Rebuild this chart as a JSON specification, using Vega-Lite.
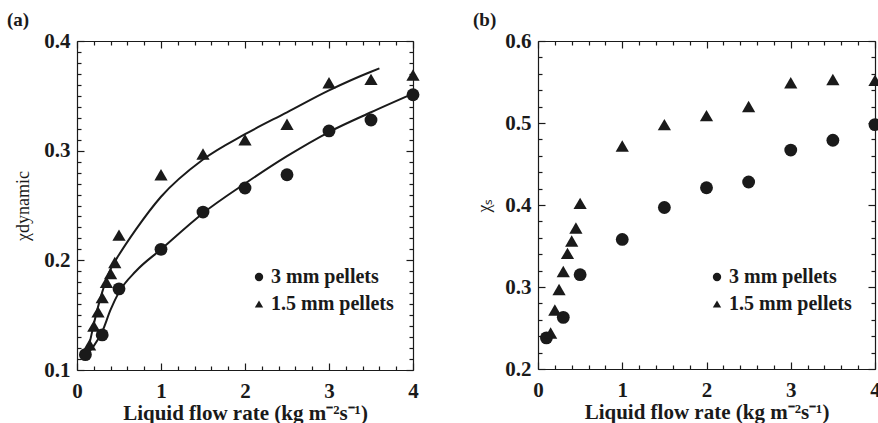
{
  "$schema": "https://vega.github.io/schema/vega-lite/v6.json",
  "autosize": {"type": "pad"},
  "padding": {"left": 7, "top": 11, "right": 0, "bottom": 0},
  "bounds": "flush",
  "spacing": 125,
  "background": "white",
  "config": {
    "view": {"stroke": null},
    "axis": {
      "grid": false,
      "ticks": true,
      "domainColor": "#1a1a1a",
      "domainWidth": 1.2,
      "tickColor": "#1a1a1a",
      "tickWidth": 1.2,
      "labelFont": "Liberation Serif",
      "labelFontWeight": "bold",
      "labelFontSize": 21,
      "labelColor": "#1a1a1a",
      "labelOverlap": false,
      "labelFlush": false,
      "labelBound": false,
      "titleFont": "Liberation Serif",
      "titleFontWeight": "bold",
      "titleFontSize": 21,
      "titleColor": "#1a1a1a"
    },
    "legend": {
      "labelFont": "Liberation Serif",
      "labelFontWeight": "bold",
      "labelFontSize": 20,
      "labelColor": "#1a1a1a",
      "symbolFillColor": "#1a1a1a",
      "symbolStrokeColor": "#1a1a1a",
      "symbolSize": 70,
      "symbolStrokeWidth": 0,
      "rowPadding": 7,
      "labelOffset": 2,
      "padding": 0
    },
    "title": {
      "font": "Liberation Serif",
      "fontWeight": "bold",
      "fontSize": 19,
      "color": "#1a1a1a",
      "anchor": "start",
      "frame": "group"
    }
  },
  "resolve": {"scale": {"shape": "independent"}},
  "datasets": {
    "dynamic_pts": [
      {"q": 0.1, "chi": 0.114, "pellet": "3 mm pellets"},
      {"q": 0.3, "chi": 0.132, "pellet": "3 mm pellets"},
      {"q": 0.5, "chi": 0.174, "pellet": "3 mm pellets"},
      {"q": 1.0, "chi": 0.21, "pellet": "3 mm pellets"},
      {"q": 1.5, "chi": 0.244, "pellet": "3 mm pellets"},
      {"q": 2.0, "chi": 0.266, "pellet": "3 mm pellets"},
      {"q": 2.5, "chi": 0.278, "pellet": "3 mm pellets"},
      {"q": 3.0, "chi": 0.318, "pellet": "3 mm pellets"},
      {"q": 3.5, "chi": 0.328, "pellet": "3 mm pellets"},
      {"q": 4.0, "chi": 0.351, "pellet": "3 mm pellets"},
      {"q": 0.15, "chi": 0.123, "pellet": "1.5 mm pellets"},
      {"q": 0.2, "chi": 0.14, "pellet": "1.5 mm pellets"},
      {"q": 0.25, "chi": 0.153, "pellet": "1.5 mm pellets"},
      {"q": 0.3, "chi": 0.166, "pellet": "1.5 mm pellets"},
      {"q": 0.35, "chi": 0.18, "pellet": "1.5 mm pellets"},
      {"q": 0.4, "chi": 0.188, "pellet": "1.5 mm pellets"},
      {"q": 0.45, "chi": 0.198, "pellet": "1.5 mm pellets"},
      {"q": 0.5, "chi": 0.223, "pellet": "1.5 mm pellets"},
      {"q": 1.0, "chi": 0.278, "pellet": "1.5 mm pellets"},
      {"q": 1.5, "chi": 0.297, "pellet": "1.5 mm pellets"},
      {"q": 2.0, "chi": 0.31, "pellet": "1.5 mm pellets"},
      {"q": 2.5, "chi": 0.324, "pellet": "1.5 mm pellets"},
      {"q": 3.0, "chi": 0.362, "pellet": "1.5 mm pellets"},
      {"q": 3.5, "chi": 0.365, "pellet": "1.5 mm pellets"},
      {"q": 4.0, "chi": 0.369, "pellet": "1.5 mm pellets"}
    ],
    "dynamic_fit": [
      {"q": 0.1, "chi": 0.113, "pellet": "3 mm pellets"},
      {"q": 0.2, "chi": 0.122, "pellet": "3 mm pellets"},
      {"q": 0.3, "chi": 0.135, "pellet": "3 mm pellets"},
      {"q": 0.4, "chi": 0.155, "pellet": "3 mm pellets"},
      {"q": 0.5, "chi": 0.171, "pellet": "3 mm pellets"},
      {"q": 0.7, "chi": 0.19, "pellet": "3 mm pellets"},
      {"q": 1.0, "chi": 0.21, "pellet": "3 mm pellets"},
      {"q": 1.5, "chi": 0.243, "pellet": "3 mm pellets"},
      {"q": 2.0, "chi": 0.27, "pellet": "3 mm pellets"},
      {"q": 2.5, "chi": 0.295, "pellet": "3 mm pellets"},
      {"q": 3.0, "chi": 0.317, "pellet": "3 mm pellets"},
      {"q": 3.5, "chi": 0.335, "pellet": "3 mm pellets"},
      {"q": 4.0, "chi": 0.352, "pellet": "3 mm pellets"},
      {"q": 0.12, "chi": 0.118, "pellet": "1.5 mm pellets"},
      {"q": 0.15, "chi": 0.125, "pellet": "1.5 mm pellets"},
      {"q": 0.2, "chi": 0.142, "pellet": "1.5 mm pellets"},
      {"q": 0.3, "chi": 0.171, "pellet": "1.5 mm pellets"},
      {"q": 0.4, "chi": 0.192, "pellet": "1.5 mm pellets"},
      {"q": 0.5, "chi": 0.205, "pellet": "1.5 mm pellets"},
      {"q": 0.7, "chi": 0.228, "pellet": "1.5 mm pellets"},
      {"q": 1.0, "chi": 0.258, "pellet": "1.5 mm pellets"},
      {"q": 1.5, "chi": 0.292, "pellet": "1.5 mm pellets"},
      {"q": 2.0, "chi": 0.315, "pellet": "1.5 mm pellets"},
      {"q": 2.5, "chi": 0.335, "pellet": "1.5 mm pellets"},
      {"q": 3.0, "chi": 0.355, "pellet": "1.5 mm pellets"},
      {"q": 3.5, "chi": 0.372, "pellet": "1.5 mm pellets"},
      {"q": 3.6, "chi": 0.375, "pellet": "1.5 mm pellets"}
    ],
    "static_pts": [
      {"q": 0.1, "chi": 0.238, "pellet": "3 mm pellets"},
      {"q": 0.3, "chi": 0.263, "pellet": "3 mm pellets"},
      {"q": 0.5, "chi": 0.315, "pellet": "3 mm pellets"},
      {"q": 1.0, "chi": 0.358, "pellet": "3 mm pellets"},
      {"q": 1.5, "chi": 0.397, "pellet": "3 mm pellets"},
      {"q": 2.0, "chi": 0.421, "pellet": "3 mm pellets"},
      {"q": 2.5, "chi": 0.428, "pellet": "3 mm pellets"},
      {"q": 3.0, "chi": 0.467, "pellet": "3 mm pellets"},
      {"q": 3.5, "chi": 0.479, "pellet": "3 mm pellets"},
      {"q": 4.0, "chi": 0.498, "pellet": "3 mm pellets"},
      {"q": 0.15, "chi": 0.244, "pellet": "1.5 mm pellets"},
      {"q": 0.2, "chi": 0.272, "pellet": "1.5 mm pellets"},
      {"q": 0.25, "chi": 0.297, "pellet": "1.5 mm pellets"},
      {"q": 0.3, "chi": 0.319, "pellet": "1.5 mm pellets"},
      {"q": 0.35, "chi": 0.341, "pellet": "1.5 mm pellets"},
      {"q": 0.4, "chi": 0.356, "pellet": "1.5 mm pellets"},
      {"q": 0.45, "chi": 0.372, "pellet": "1.5 mm pellets"},
      {"q": 0.5, "chi": 0.402, "pellet": "1.5 mm pellets"},
      {"q": 1.0, "chi": 0.472, "pellet": "1.5 mm pellets"},
      {"q": 1.5, "chi": 0.498, "pellet": "1.5 mm pellets"},
      {"q": 2.0, "chi": 0.509, "pellet": "1.5 mm pellets"},
      {"q": 2.5, "chi": 0.52, "pellet": "1.5 mm pellets"},
      {"q": 3.0, "chi": 0.549, "pellet": "1.5 mm pellets"},
      {"q": 3.5, "chi": 0.553, "pellet": "1.5 mm pellets"},
      {"q": 4.0, "chi": 0.552, "pellet": "1.5 mm pellets"}
    ]
  },
  "hconcat": [
    {
      "width": 336,
      "height": 329,
      "title": {"text": "(a)", "dx": -70, "offset": 0},
      "layer": [
        {
          "data": {"name": "dynamic_fit"},
          "mark": {"type": "line", "interpolate": "monotone", "color": "#1a1a1a", "strokeWidth": 2},
          "encoding": {
            "x": {"field": "q", "type": "quantitative", "scale": {"domain": [0, 4], "nice": false, "zero": false}, "axis": null},
            "y": {"field": "chi", "type": "quantitative", "scale": {"domain": [0.1, 0.4], "nice": false, "zero": false}, "axis": null},
            "detail": {"field": "pellet"}
          }
        },
        {
          "data": {"name": "dynamic_pts"},
          "transform": [{"filter": "datum.pellet === '3 mm pellets'"}],
          "mark": {"type": "point", "filled": true, "opacity": 1, "color": "#1a1a1a", "size": 165},
          "encoding": {
            "x": {
              "field": "q", "type": "quantitative",
              "scale": {"domain": [0, 4], "nice": false, "zero": false},
              "axis": {
                "orient": "bottom",
                "title": "Liquid flow rate (kg m⁻²s⁻¹)",
                "values": [0, 0.2, 0.4, 0.6, 0.8, 1, 1.2, 1.4, 1.6, 1.8, 2, 2.2, 2.4, 2.6, 2.8, 3, 3.2, 3.4, 3.6, 3.8, 4],
                "labelExpr": "abs(datum.value - round(datum.value)) < 1e-6 ? '' + round(datum.value) : ''",
                "tickSize": {"condition": {"test": "abs(datum.value - round(datum.value)) < 1e-6", "value": -7}, "value": -4},
                "labelPadding": 17,
                "titlePadding": -2
              }
            },
            "y": {
              "field": "chi", "type": "quantitative",
              "scale": {"domain": [0.1, 0.4], "nice": false, "zero": false},
              "axis": {
                "orient": "left",
                "title": "χdynamic",
                "titleFontWeight": "normal",
                "titleFontSize": 18,
                "titlePadding": 11,
                "values": [0.1, 0.11, 0.12, 0.13, 0.14, 0.15, 0.16, 0.17, 0.18, 0.19, 0.2, 0.21, 0.22, 0.23, 0.24, 0.25, 0.26, 0.27, 0.28, 0.29, 0.3, 0.31, 0.32, 0.33, 0.34, 0.35, 0.36, 0.37, 0.38, 0.39, 0.4],
                "labelExpr": "abs(datum.value * 10 - round(datum.value * 10)) < 1e-6 ? format(datum.value, '.1f') : ''",
                "tickSize": {"condition": {"test": "abs(datum.value * 10 - round(datum.value * 10)) < 1e-6", "value": -7}, "value": -4},
                "labelPadding": 14
              }
            },
            "shape": {
              "field": "pellet", "type": "nominal",
              "scale": {"domain": ["3 mm pellets", "1.5 mm pellets"], "range": ["circle", "triangle-up"]},
              "legend": {"title": null, "orient": "none", "legendX": 172, "legendY": 226}
            }
          }
        },
        {
          "data": {"name": "dynamic_pts"},
          "transform": [{"filter": "datum.pellet === '1.5 mm pellets'"}],
          "mark": {"type": "point", "filled": true, "opacity": 1, "color": "#1a1a1a", "size": 175},
          "encoding": {
            "x": {
              "field": "q", "type": "quantitative",
              "scale": {"domain": [0, 4], "nice": false, "zero": false},
              "axis": {
                "orient": "top", "title": null, "labels": false,
                "values": [0, 0.2, 0.4, 0.6, 0.8, 1, 1.2, 1.4, 1.6, 1.8, 2, 2.2, 2.4, 2.6, 2.8, 3, 3.2, 3.4, 3.6, 3.8, 4],
                "tickSize": {"condition": {"test": "abs(datum.value - round(datum.value)) < 1e-6", "value": -7}, "value": -4}
              }
            },
            "y": {
              "field": "chi", "type": "quantitative",
              "scale": {"domain": [0.1, 0.4], "nice": false, "zero": false},
              "axis": {
                "orient": "right", "title": null, "labels": false,
                "values": [0.1, 0.11, 0.12, 0.13, 0.14, 0.15, 0.16, 0.17, 0.18, 0.19, 0.2, 0.21, 0.22, 0.23, 0.24, 0.25, 0.26, 0.27, 0.28, 0.29, 0.3, 0.31, 0.32, 0.33, 0.34, 0.35, 0.36, 0.37, 0.38, 0.39, 0.4],
                "tickSize": {"condition": {"test": "abs(datum.value * 10 - round(datum.value * 10)) < 1e-6", "value": -7}, "value": -4}
              }
            },
            "shape": {
              "field": "pellet", "type": "nominal",
              "scale": {"domain": ["3 mm pellets", "1.5 mm pellets"], "range": ["circle", "triangle-up"]},
              "legend": {"title": null, "orient": "none", "legendX": 172, "legendY": 226}
            }
          }
        }
      ]
    },
    {
      "width": 337,
      "height": 328,
      "title": {"text": "(b)", "dx": -65, "offset": 0},
      "layer": [
        {
          "data": {"name": "static_pts"},
          "transform": [{"filter": "datum.pellet === '3 mm pellets'"}],
          "mark": {"type": "point", "filled": true, "opacity": 1, "color": "#1a1a1a", "size": 165},
          "encoding": {
            "x": {
              "field": "q", "type": "quantitative",
              "scale": {"domain": [0, 4], "nice": false, "zero": false},
              "axis": {
                "orient": "bottom",
                "title": "Liquid flow rate (kg m⁻²s⁻¹)",
                "values": [0, 0.2, 0.4, 0.6, 0.8, 1, 1.2, 1.4, 1.6, 1.8, 2, 2.2, 2.4, 2.6, 2.8, 3, 3.2, 3.4, 3.6, 3.8, 4],
                "labelExpr": "abs(datum.value - round(datum.value)) < 1e-6 ? '' + round(datum.value) : ''",
                "tickSize": {"condition": {"test": "abs(datum.value - round(datum.value)) < 1e-6", "value": -7}, "value": -4},
                "labelPadding": 17,
                "titlePadding": -2
              }
            },
            "y": {
              "field": "chi", "type": "quantitative",
              "scale": {"domain": [0.2, 0.6], "nice": false, "zero": false},
              "axis": {
                "orient": "left",
                "title": "χₛ",
                "titleFontWeight": "normal",
                "titleFontSize": 18,
                "titlePadding": 11,
                "values": [0.2, 0.22, 0.24, 0.26, 0.28, 0.3, 0.32, 0.34, 0.36, 0.38, 0.4, 0.42, 0.44, 0.46, 0.48, 0.5, 0.52, 0.54, 0.56, 0.58, 0.6],
                "labelExpr": "abs(datum.value * 10 - round(datum.value * 10)) < 1e-6 ? format(datum.value, '.1f') : ''",
                "tickSize": {"condition": {"test": "abs(datum.value * 10 - round(datum.value * 10)) < 1e-6", "value": -7}, "value": -4},
                "labelPadding": 14
              }
            },
            "shape": {
              "field": "pellet", "type": "nominal",
              "scale": {"domain": ["3 mm pellets", "1.5 mm pellets"], "range": ["circle", "triangle-up"]},
              "legend": {"title": null, "orient": "none", "legendX": 169, "legendY": 226}
            }
          }
        },
        {
          "data": {"name": "static_pts"},
          "transform": [{"filter": "datum.pellet === '1.5 mm pellets'"}],
          "mark": {"type": "point", "filled": true, "opacity": 1, "color": "#1a1a1a", "size": 175},
          "encoding": {
            "x": {
              "field": "q", "type": "quantitative",
              "scale": {"domain": [0, 4], "nice": false, "zero": false},
              "axis": {
                "orient": "top", "title": null, "labels": false,
                "values": [0, 0.2, 0.4, 0.6, 0.8, 1, 1.2, 1.4, 1.6, 1.8, 2, 2.2, 2.4, 2.6, 2.8, 3, 3.2, 3.4, 3.6, 3.8, 4],
                "tickSize": {"condition": {"test": "abs(datum.value - round(datum.value)) < 1e-6", "value": -7}, "value": -4}
              }
            },
            "y": {
              "field": "chi", "type": "quantitative",
              "scale": {"domain": [0.2, 0.6], "nice": false, "zero": false},
              "axis": {
                "orient": "right", "title": null, "labels": false,
                "values": [0.2, 0.22, 0.24, 0.26, 0.28, 0.3, 0.32, 0.34, 0.36, 0.38, 0.4, 0.42, 0.44, 0.46, 0.48, 0.5, 0.52, 0.54, 0.56, 0.58, 0.6],
                "tickSize": {"condition": {"test": "abs(datum.value * 10 - round(datum.value * 10)) < 1e-6", "value": -7}, "value": -4}
              }
            },
            "shape": {
              "field": "pellet", "type": "nominal",
              "scale": {"domain": ["3 mm pellets", "1.5 mm pellets"], "range": ["circle", "triangle-up"]},
              "legend": {"title": null, "orient": "none", "legendX": 169, "legendY": 226}
            }
          }
        }
      ]
    }
  ]
}
